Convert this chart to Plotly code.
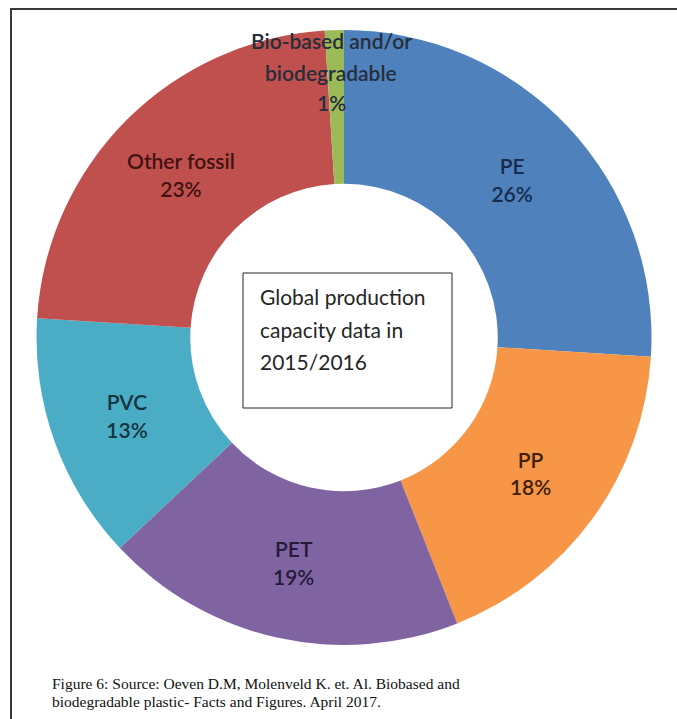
import plotly.graph_objects as go

# ---- data ----
categories = ["PE", "PP", "PET", "PVC", "Other fossil", "Bio-based and/or<br>biodegradable"]
shares = [26, 18, 19, 13, 23, 1]
box_lines = ["Global production", "capacity data in", "2015/2016"]
caption_lines = [
    "Figure 6: Source: Oeven D.M, Molenveld K. et. Al. Biobased and",
    "biodegradable plastic- Facts and Figures. April 2017.",
]

# ---- style ----
slice_colors = ["#4F81BD", "#F79646", "#8064A2", "#4BACC6", "#C0504D", "#9BBB59"]
label_colors = ["#182B4C", "#40200A", "#261B3A", "#143440", "#421212", "#262E3C"]

W, H = 677, 719
cx, cy, R = 344, 337.5, 307.5

texts = [f"{c}<br>{v}%" for c, v in zip(categories, shares)]
texts[-1] = ""  # small slice label drawn as annotation above the ring
bio_lines = categories[-1].split("<br>") + [f"{shares[-1]}%"]

fig = go.Figure(go.Pie(
    labels=categories, values=shares, sort=False, direction="clockwise", rotation=0,
    hole=0.5, marker=dict(colors=slice_colors, line=dict(width=0)),
    text=texts, textinfo="text", textposition="inside",
    insidetextorientation="horizontal",
    textfont=dict(family="Lato", size=21, color=label_colors, weight=600),
    showlegend=False, hoverinfo="label+percent",
    domain=dict(x=[(cx - R) / W, (cx + R) / W], y=[(H - cy - R) / H, (H - cy + R) / H]),
))

def px(x):
    return x / W

def py(y):
    return (H - y) / H

for line, yy in zip(bio_lines, [41, 72, 103]):
    fig.add_annotation(
        text=line, x=px(331), y=py(yy), xref="paper", yref="paper",
        xanchor="center", yanchor="middle", showarrow=False, align="center",
        font=dict(family="Lato", size=21, color=label_colors[-1], weight=600),
    )

# inner text box
fig.add_shape(type="rect", xref="paper", yref="paper",
              x0=px(243), x1=px(452), y0=py(408), y1=py(273),
              line=dict(color="#262626", width=1), fillcolor="white")
for line, yy in zip(box_lines, [296, 329, 361]):
    fig.add_annotation(
        text=line, x=px(258), y=py(yy), xref="paper", yref="paper",
        xanchor="left", yanchor="middle", showarrow=False, align="left",
        font=dict(family="Lato", size=21, color="#262626"),
    )

# outer frame (right/bottom edges fall outside the picture)
fig.add_shape(type="rect", xref="paper", yref="paper",
              x0=px(11), x1=1.2, y0=-0.2, y1=py(9),
              line=dict(color="#3a3a3a", width=2), fillcolor="rgba(0,0,0,0)")

for line, yy in zip(caption_lines, [683, 701]):
    fig.add_annotation(
        text=line, x=px(50), y=py(yy), xref="paper", yref="paper",
        xanchor="left", yanchor="middle", showarrow=False, align="left",
        font=dict(family="Liberation Serif", size=15.5, color="#111111"),
    )

fig.update_layout(
    width=W, height=H, margin=dict(l=0, r=0, t=0, b=0),
    paper_bgcolor="white", plot_bgcolor="white",
)

fig.write_html("out.html")
